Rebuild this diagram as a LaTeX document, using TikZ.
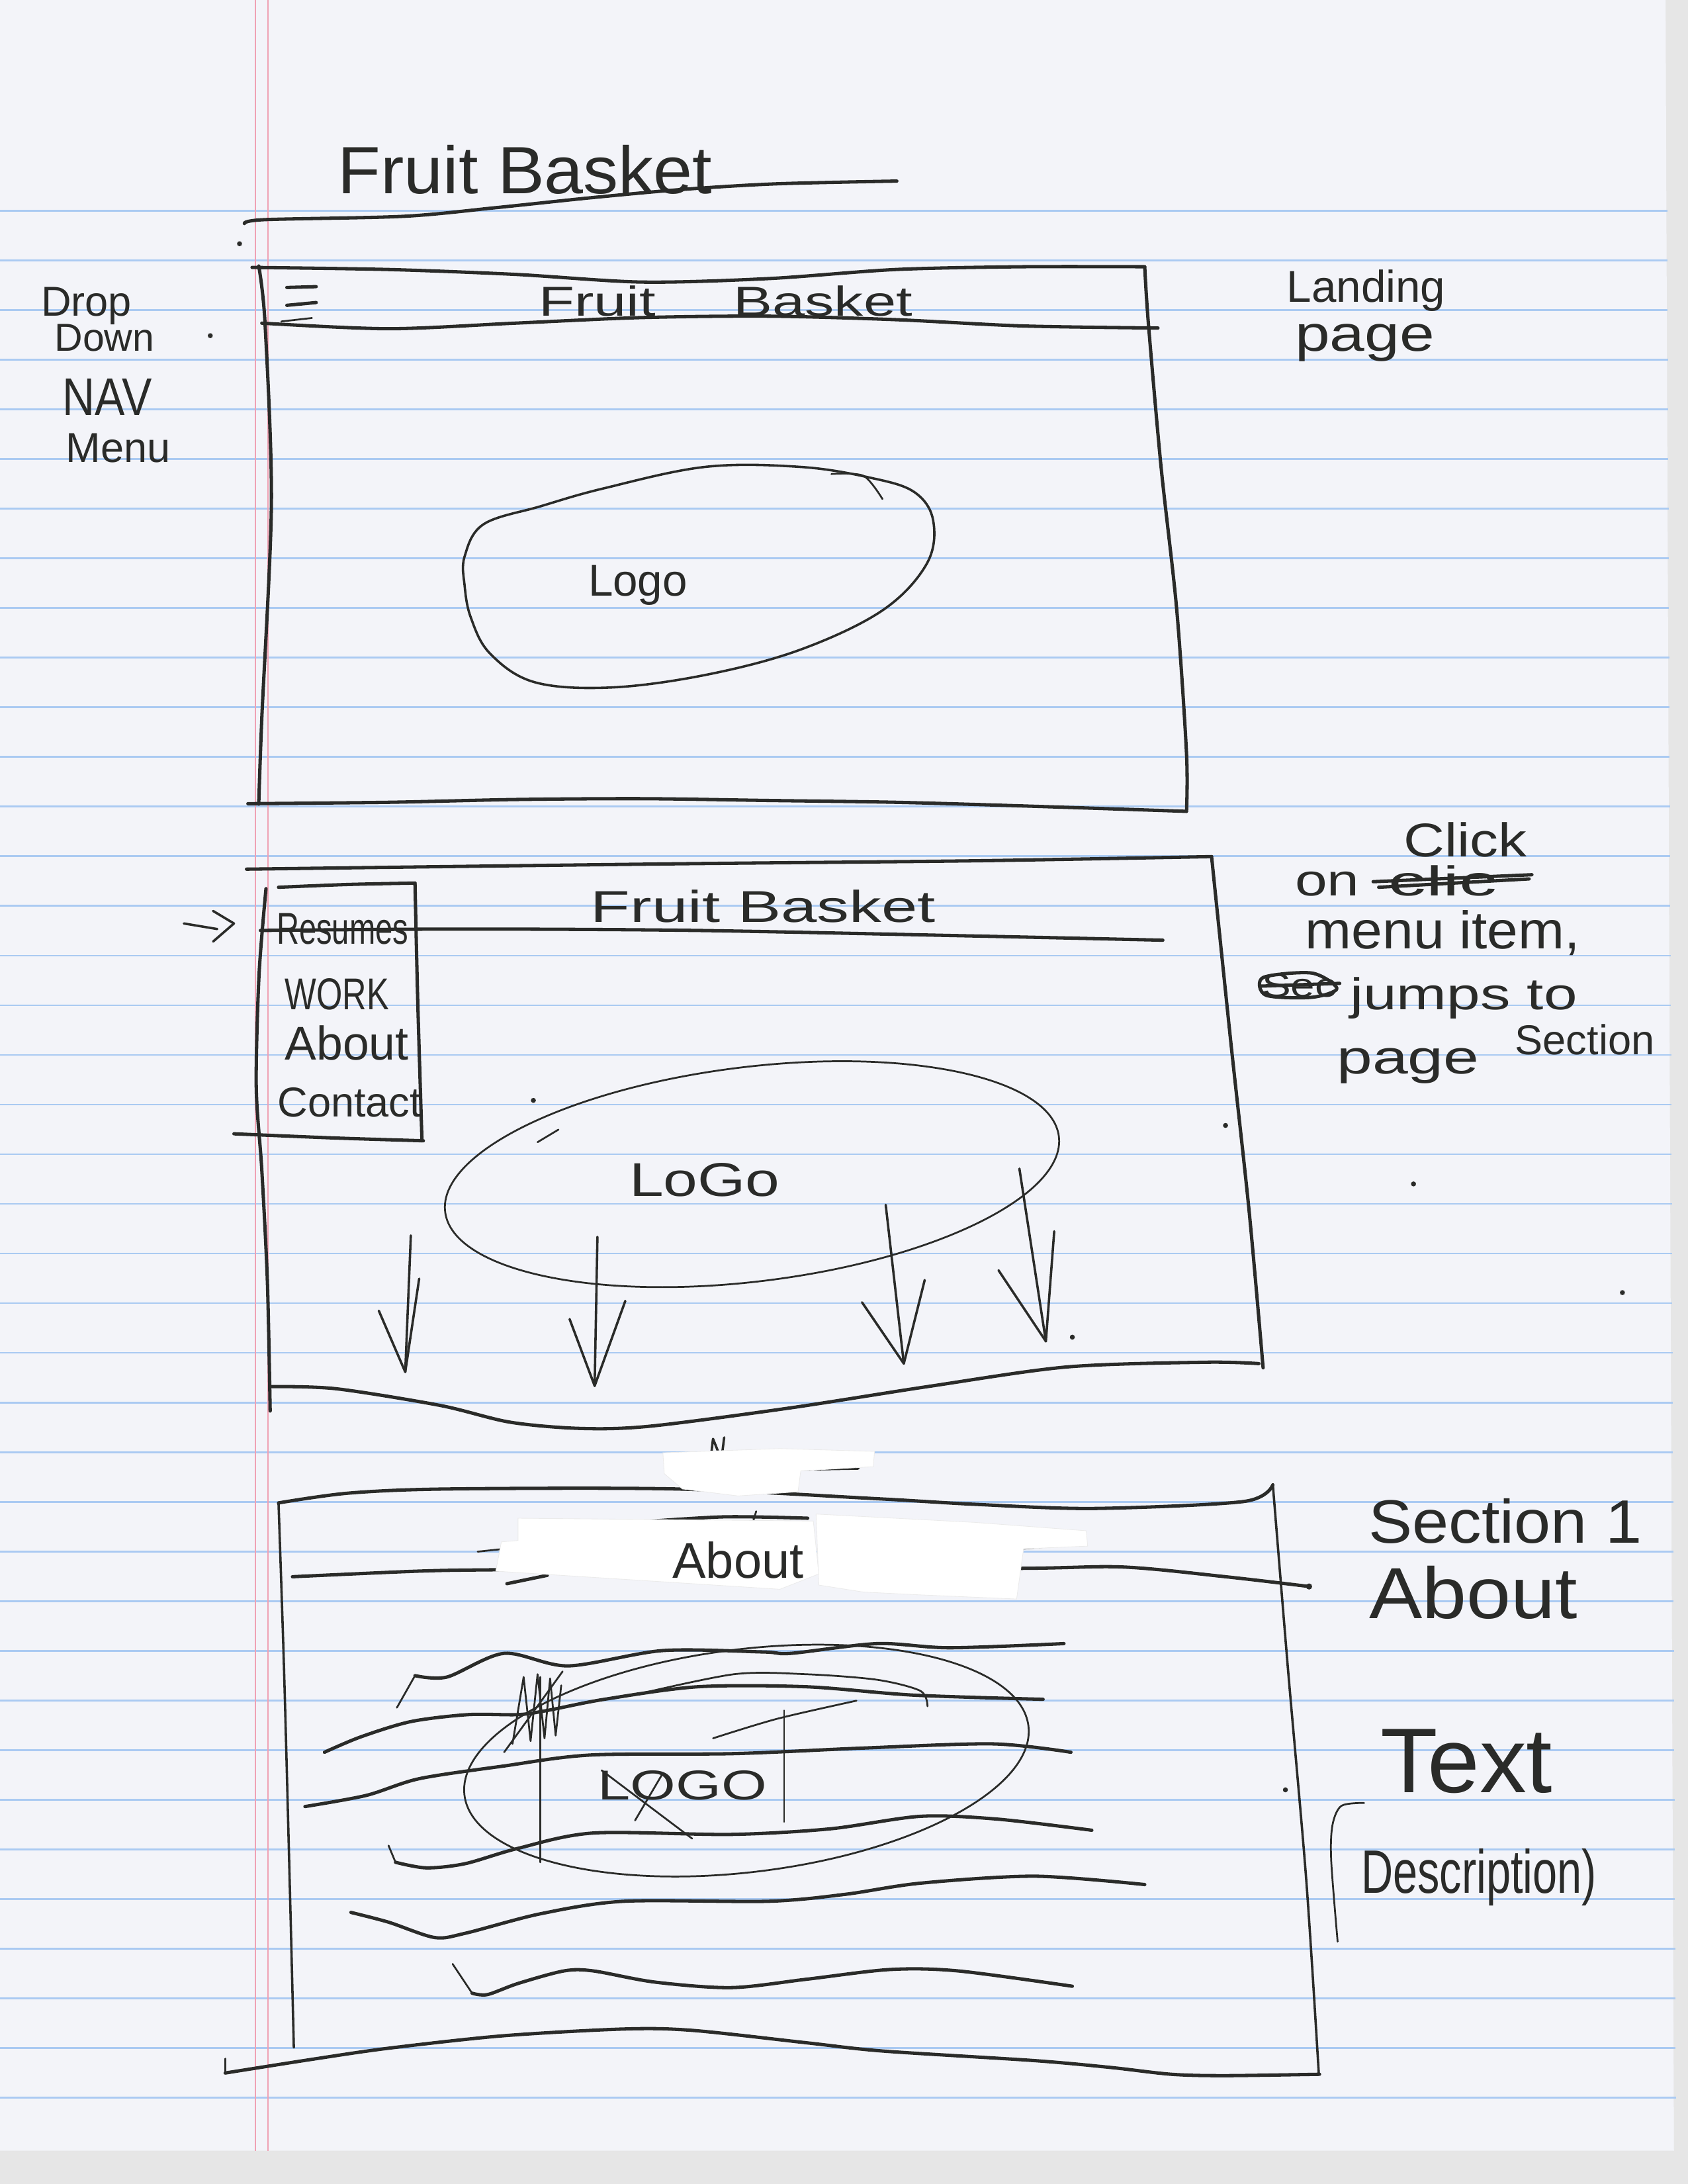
\documentclass[tikz,border=0pt]{standalone}
\usepackage{fontspec}
\setmainfont{Liberation Sans}
\usepackage{graphicx}
\definecolor{pen}{HTML}{2A2B29}
\definecolor{paper}{HTML}{F3F4F9}
\definecolor{scanbg}{HTML}{E6E6E6}
\definecolor{ruleblue}{HTML}{AACAF2}
\definecolor{marginred}{HTML}{EFA2B4}
% handwritten-looking label: size, horizontal stretch, text
\newcommand{\handw}[3]{\scalebox{#2}[1]{\fontsize{#1}{#1}\selectfont #3}}
\tikzset{
  penline/.style={draw=pen, line width=2.4pt, line cap=round, line join=round},
  penthin/.style={draw=pen, line width=1.3pt, line cap=round, line join=round},
  penmid/.style={draw=pen, line width=1.7pt, line cap=round, line join=round},
  handtext/.style={inner sep=0pt, text=pen, anchor=base},
  whiteout/.style={fill=white, draw=black!8, line width=0.4pt},
  ruleline/.style={draw=ruleblue, line width=1.3pt},
  marginline/.style={draw=marginred, line width=0.9pt},
  speck/.style={fill=pen},
}
\begin{document}
\begin{tikzpicture}[x=1pt,y=-1pt]
\useasboundingbox (0,0) rectangle (1212,1568);

% ---------- sheet of ruled paper ----------
\fill[scanbg] (0,0) rectangle (1212,1568);
\fill[paper] (0,0) -- (1196,0) -- (1202,1544) -- (0,1544) -- cycle;
\foreach \k in {0,...,38}
  \draw[ruleline] (0,{151.3+35.65*\k}) -- ({1196.5+0.0046*(151.3+35.65*\k)},{151.3+35.65*\k});
\draw[marginline] (183.5,0) -- (183.5,1544);
\draw[marginline] (192.3,0) -- (192.3,1544);

% ---------- title ----------
\node[handtext] (title) at (377,139) {\handw{48}{1.05}{Fruit Basket}};
\draw[penline] plot[smooth] coordinates {(175.5,160.5) (190,157.7) (290,155.3) (357,149) (424,142) (490,136) (557,132) (644,130)};

% ---------- side notes, left ----------
\node[handtext] (drop) at (62,227) {\handw{30}{1}{Drop}};
\node[handtext] (down) at (75,252) {\handw{28}{1}{Down}};
\node[handtext] (nav) at (77,298) {\handw{38}{0.85}{NAV}};
\node[handtext] (menu) at (85,332) {\handw{30}{1}{Menu}};

% ---------- landing page frame ----------
\draw[penline] plot[smooth] coordinates {(181,192) (279,193.5) (370,197) (461,202.5) (552,200) (643,193.5) (734,191.5) (822,191.5)};
\draw[penline] plot[smooth] coordinates {(822,191.5) (824.6,232) (833.7,335) (845,438) (852,541) (852,582.5)};
\draw[penline] plot[smooth] coordinates {(185.8,191) (190.3,232) (194.9,361) (188,515.5) (185.8,577.3)};
\draw[penline] plot[smooth] coordinates {(188,232) (279,236) (370,232) (461,228) (552,227) (643,229.5) (734,234) (831.5,235.5)};
\draw[penline] plot[smooth] coordinates {(178,577) (279,576) (370,574) (461,573.4) (552,574.7) (643,576) (734,578.6) (852,582.5)};
% menu icon
\draw[penline] (206,206.4) -- (227,205.8);
\draw[penline] (206,219.2) -- (227,217.2);
\draw[penthin] (202,230.8) -- (224,228.3);
\node[handtext] (hdrA) at (521,227) {\handw{30}{1.4}{Fruit\hspace{40pt}Basket}};
% logo blob
\draw[penmid] plot[smooth cycle, tension=0.6] coordinates {
  (333.6,399.6) (347.2,376.4) (388.1,363.5) (433.6,350.6) (506.4,335.2) (574.5,335.2)
  (624.6,342.9) (656.4,353.2) (670.1,373.8) (665.5,404.7) (633.7,438.2) (574.5,466.5)
  (506.4,484.6) (438.1,493.6) (383.6,489.7) (351.8,469.1) (338.1,443.4) (333.6,420.2)};
\draw[penthin] plot[smooth] coordinates {(597,340.3) (620,341.6) (633.7,358.3)};
\node[handtext] (logoA) at (458,428) {\handw{32}{1}{Logo}};

% ---------- side notes, right of landing page ----------
\node[handtext] (landing) at (981,217) {\handw{32}{1}{Landing}};
\node[handtext] (pageA) at (980,252) {\handw{36}{1.25}{page}};

% ---------- frame with open menu ----------
\draw[penline] plot[smooth] coordinates {(177,624) (333,622) (500,620) (700,618) (870,615)};
\draw[penline] plot[smooth] coordinates {(870,615) (884,750) (897,870) (907,982)};
\draw[penline] plot[smooth] coordinates {(191,638) (186,700) (184,780) (188,840) (192,920) (194,1013)};
\draw[penline] plot[smooth] coordinates {(193.8,995.5) (241,997) (316,1009) (366,1021) (416,1025.5) (466,1024) (566,1011) (666,995.5) (766,981.4) (866,978) (904,979)};
% open menu panel
\draw[penline] plot[smooth] coordinates {(200,637) (250,635) (298,634)};
\draw[penline] plot[smooth] coordinates {(298,634) (300,720) (303,819)};
\draw[penline] plot[smooth] coordinates {(168,814) (240,817) (304,819)};
\node[handtext] (resumes) at (246,678) {\handw{32}{0.7}{Resumes}};
\node[handtext] (work) at (242,725) {\handw{32}{0.75}{WORK}};
\node[handtext] (aboutB) at (249,761) {\handw{34}{1}{About}};
\node[handtext] (contact) at (251,802) {\handw{30}{1}{Contact}};
% header bar (runs through the first menu entry)
\draw[penline] plot[smooth] coordinates {(187,668) (333,667) (500,668) (700,672) (835,675)};
\node[handtext] (hdrB) at (548,662) {\handw{32}{1.45}{Fruit Basket}};
% pointer arrow
\draw[penmid] (132,663) -- (156,667);
\draw[penmid] (153,654) -- (168,663) -- (153,676);
% logo
\draw[penthin, rotate around={7:(540,843)}] (540,843) ellipse [x radius=222, y radius=77];
\draw[penthin] (386,820) -- (401,811);
\node[handtext] (logoB) at (506,859) {\handw{34}{1.3}{LoGo}};
% scroll arrows
\coordinate (a1t) at (295,887); \coordinate (a1b) at (291,985);
\coordinate (a2t) at (429,888); \coordinate (a2b) at (427,995);
\coordinate (a3t) at (636,865); \coordinate (a3b) at (649,979);
\coordinate (a4t) at (732,839); \coordinate (a4b) at (751,963);
\draw[penmid] (a1t) -- (a1b); \draw[penmid] (272,941) -- (a1b) -- (301,918);
\draw[penmid] (a2t) -- (a2b); \draw[penmid] (409,947) -- (a2b) -- (449,934);
\draw[penmid] (a3t) -- (a3b); \draw[penmid] (619,935) -- (a3b) -- (664,919);
\draw[penmid] (a4t) -- (a4b); \draw[penmid] (717,912) -- (a4b) -- (757,884);

% ---------- side notes, right of open menu ----------
\node[handtext] (click) at (1052,615) {\handw{34}{1.2}{Click}};
\node[handtext] (on) at (953,643) {\handw{32}{1.3}{on}};
\node[handtext] (clic) at (1036,643) {\handw{30}{1.8}{clic}};
\draw[penline] (986,633) -- (1100,628);
\draw[penline] (990,637) -- (1098,631);
\node[handtext] (menuitem) at (1036,681) {\handw{38}{1.05}{menu item,}};
\node[handtext] (sec) at (933,716) {\handw{24}{1.3}{Sec}};
\draw[penline] plot[smooth cycle] coordinates {(907,701.8) (942,698.6) (960,709.7) (942,716) (909,714.5)};
\draw[penline] (905,708) -- (962,706);
\node[handtext] (jumps) at (1051,725) {\handw{32}{1.35}{jumps to}};
\node[handtext] (pageB) at (1011,771) {\handw{34}{1.35}{page}};
\node[handtext] (section) at (1138,757) {\handw{30}{1}{Section}};

% ---------- section frame ----------
\draw[penmid] (510,1050) -- (512,1033) -- (518,1048) -- (520,1032);
\draw[penline] (558,1055) -- (616,1054);
\draw[penline] plot[smooth] coordinates {(200,1079) (250,1072) (321,1069) (486,1069) (630,1076) (700,1080) (785,1083) (893,1078) (914,1066)};
\draw[penmid] plot[smooth] coordinates {(200,1079) (204,1200) (208,1350) (211,1470)};
\draw[penmid] plot[smooth] coordinates {(914,1066) (925,1200) (938,1350) (947,1489)};
\draw[penline] plot[smooth] coordinates {(210,1132) (300,1128) (357,1127) (500,1126) (728,1126) (806,1125) (880,1132) (940,1139)};
\fill[speck] (940,1139) circle (2.2);
% bottom edge
\draw[penthin] (161.7,1478) -- (161.7,1488);
\draw[penline] plot[smooth] coordinates {(161.7,1488.3) (224.5,1478.4) (279,1470.5) (360.9,1461.6) (448.2,1456.7) (497.3,1457.7) (579.2,1466.6) (633.7,1472.5) (742.9,1479.4) (797.4,1484.3) (841,1489.2) (879.3,1490.2) (947.5,1489.2)};
% strokes under the correction patches
\draw[penline] plot[smooth] coordinates {(455,1093) (520,1089) (580,1090)};
\draw[penthin] (543,1085) -- (540,1095);
\draw[penthin] (343,1114) -- (362,1112);
\draw[penline] (364,1137) -- (393,1131);
\draw[penthin] (733,1112) -- (769,1109);
% correction patches
\path[whiteout] (476,1043) -- (560,1040) -- (628,1042) -- (627,1053) -- (575,1056) -- (573,1071) -- (530,1074) -- (490,1069) -- (477,1058) -- cycle;
\path[whiteout] (372,1090) -- (584,1092) -- (588,1130) -- (560,1141) -- (356,1128) -- (360,1107) -- (372,1106) -- cycle;
\path[whiteout] (586,1087) -- (700,1093) -- (780,1099) -- (781,1110) -- (735,1112) -- (730,1148) -- (660,1145) -- (620,1143) -- (588,1138) -- cycle;
\node[handtext] (aboutC) at (530,1133) {\handw{36}{1}{About}};
% crossed-out logo
\draw[penthin, rotate around={7:(536,1264)}] (536,1264) ellipse [x radius=204, y radius=80];
\draw[penthin] plot[smooth] coordinates {(455,1217) (527,1202) (579,1202) (630,1206) (661,1214) (666,1225)};
\draw[penthin] plot[smooth] coordinates {(512,1248) (558,1234) (615,1221)};
\node[handtext] (logoC) at (490,1292) {\handw{30}{1.4}{LOGO}};
\draw[penthin] (388,1204) -- (388,1337);
\draw[penthin] (563,1228) -- (563,1308);
\draw[penthin] (432,1271) -- (497,1320);
\draw[penthin] (456,1307) -- (476,1273);
\draw[penthin] (368,1252) -- (376,1204) -- (381,1250) -- (386,1202) -- (391,1248) -- (395,1205) -- (399,1246) -- (403,1210);
\draw[penthin] (362,1258) -- (404,1200);
% text placeholder lines
\draw[penthin] (285,1226) -- (298,1203);
\draw[penline] plot[smooth] coordinates {(298,1203) (321,1204) (362,1187) (408,1196) (476,1185) (548,1186) (568,1187) (630,1180) (682,1183) (764,1180)};
\draw[penline] plot[smooth] coordinates {(233,1258) (259,1247) (295,1236) (336,1231) (372,1231) (393,1228) (434,1220) (501,1211) (579,1211) (656,1217) (749,1220)};
\draw[penline] plot[smooth] coordinates {(219,1297) (263,1289) (301,1277) (361,1268) (424,1260) (527,1259) (620,1255) (713,1252) (769,1258)};
\draw[penthin] (279,1325) -- (284,1337);
\draw[penline] plot[smooth] coordinates {(284,1337) (306,1341) (334,1338) (372,1327) (426,1316) (525,1317) (596,1313) (661,1304) (716,1306) (784,1314)};
\draw[penline] plot[smooth] coordinates {(252,1373) (279,1380) (312,1391) (334,1388) (388,1374) (448,1365) (552,1365) (607,1360) (661,1352) (743,1347) (822,1353)};
\draw[penthin] (325,1410) -- (339,1431);
\draw[penline] plot[smooth] coordinates {(339,1431) (350,1432) (372,1424) (405,1415) (426,1415) (470,1423) (525,1427) (579,1421) (639,1414) (688,1415) (770,1426)};

% ---------- side notes, right of section frame ----------
\node[handtext] (sect1) at (1081,1108) {\handw{44}{1.07}{Section 1}};
\node[handtext] (aboutD) at (1058,1162) {\handw{52}{1.1}{About}};
\node[handtext] (textlbl) at (1053,1287) {\handw{66}{1.02}{Text}};
\draw[penthin] plot[smooth] coordinates {(979.5,1294.4) (963.2,1296.5) (956.8,1310.3) (955.9,1335.8) (960.5,1394)};
\node[handtext] (descr) at (1062,1359) {\handw{44}{0.72}{Description)}};

% ---------- pen specks ----------
\foreach \p in {(172,175),(151,241),(383,790),(880,808),(770,960),(923,1285),(1165,928),(1015,850)}
  \fill[speck] \p circle (1.8);
\end{tikzpicture}
\end{document}
